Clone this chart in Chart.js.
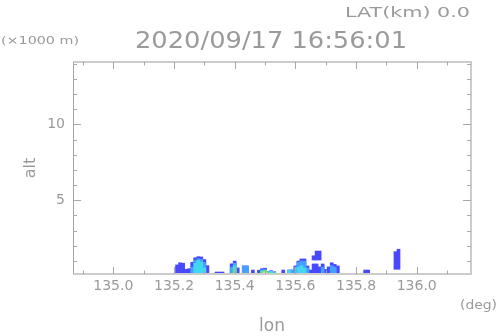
<!DOCTYPE html>
<html><head><meta charset="utf-8">
<script src="https://cdn.jsdelivr.net/npm/chart.js@4/dist/chart.umd.min.js"></script>
<style>html,body{margin:0;padding:0;background:#fff;}canvas{display:block;}</style>
</head><body>
<canvas id="c" width="498" height="336"></canvas>
<script>
// ---- tick labels ----
const xTicks = [135.0, 135.2, 135.4, 135.6, 135.8, 136.0];
const xMinorTicks = [134.9, 135.1, 135.3, 135.5, 135.7, 135.9, 136.1];
const yTicks = [5, 10];
const yMinorTicks = [1, 2, 3, 4, 6, 7, 8, 9, 11, 12, 13, 14];

// ---- ground echoes (blue envelope), lon (deg) -> top (km) ----
const echoLon = [135.21,135.22,135.23,135.24,135.25,135.26,135.27,135.28,135.29,135.30,135.31,
  135.34,135.35,135.36,135.39,135.40,135.41,135.43,135.44,135.46,135.48,135.49,135.50,135.51,135.52,135.53,
  135.56,135.58,135.59,135.60,135.61,135.62,135.63,135.64,135.65,135.66,135.67,135.68,135.69,135.70,
  135.71,135.72,135.73,135.74,135.83,135.84];
const echoTop = [0.75,0.89,0.86,0.46,0.50,0.92,1.22,1.29,1.27,1.10,0.70,
  0.28,0.28,0.28,0.82,1.00,0.55,0.68,0.68,0.41,0.40,0.50,0.53,0.30,0.37,0.30,
  0.41,0.41,0.41,0.68,1.00,1.14,1.14,0.68,0.41,0.81,0.81,0.62,0.81,0.45,
  0.62,0.89,0.78,0.68,0.41,0.41];

// ---- stronger cores ----
const lightLon = [135.26,135.27,135.28,135.29,135.30,135.39,135.40,135.43,135.44,135.49,135.50,
  135.58,135.59,135.60,135.61,135.62,135.63,135.64,135.69,135.72,135.73];
const lightTop = [0.60,1.05,1.15,1.12,0.90,0.60,0.85,0.68,0.68,0.42,0.45,
  0.41,0.41,0.60,0.92,1.00,1.00,0.55,0.60,0.70,0.60];
const cyanLon = [135.27,135.28,135.29,135.30,135.40,135.50,135.51,135.52,135.53,135.58,135.61,135.62,135.63];
const cyanTop = [0.85,1.05,0.95,0.55,0.70,0.38,0.28,0.33,0.25,0.38,0.60,0.70,0.55];
const greenLon = [135.40,135.49,135.50,135.52];
const greenTop = [0.55,0.35,0.38,0.25];
const yellowLon = [135.50];
const yellowTop = [0.28];

// ---- echoes aloft ----
const aloftLon = [135.66,135.67,135.68,135.93,135.94];
const aloftBase = [1.07,1.07,1.07,0.46,0.46];
const aloftTop = [1.35,1.66,1.66,1.62,1.78];

const GRAY = '#9a9a9a';
Chart.defaults.font.family = '"DejaVu Sans", sans-serif';
Chart.defaults.color = GRAY;

function toBars(lons, tops, bases) {
  return lons.map((x, i) => ({ x: x, y: [bases ? bases[i] : 0, tops[i]] }));
}
function ds(data, color, order) {
  return { data: data, backgroundColor: color, borderWidth: 0, grouped: false,
           barPercentage: 1, categoryPercentage: 1, order: order };
}

const frameTicks = {
  id: 'frameTicks',
  afterDatasetsDraw(chart) {
    const { ctx, chartArea: a, scales: { x, y } } = chart;
    ctx.save();
    ctx.strokeStyle = '#cccccc';
    ctx.lineWidth = 2;
    ctx.beginPath();
    ctx.moveTo(a.left, a.top); ctx.lineTo(a.right, a.top);
    ctx.lineTo(a.right, a.bottom); ctx.lineTo(a.left, a.bottom);
    ctx.stroke();
    ctx.strokeStyle = '#a4a4a4';
    ctx.lineWidth = 1;
    ctx.beginPath(); ctx.moveTo(a.left + 0.5, a.top); ctx.lineTo(a.left + 0.5, a.bottom); ctx.stroke();
    ctx.strokeStyle = '#a8a8a8';
    ctx.beginPath();
    const xt = (vals, len) => vals.forEach(v => {
      const px = Math.round(x.getPixelForValue(v)) + 0.5;
      ctx.moveTo(px, a.bottom); ctx.lineTo(px, a.bottom - len);
      ctx.moveTo(px, a.top); ctx.lineTo(px, a.top + len);
    });
    const yt = (vals, len) => vals.forEach(v => {
      const py = Math.round(y.getPixelForValue(v)) + 0.5;
      ctx.moveTo(a.left, py); ctx.lineTo(a.left + len, py);
      ctx.moveTo(a.right, py); ctx.lineTo(a.right - len, py);
    });
    xt(xTicks, 7); xt(xMinorTicks, 3.5);
    yt(yTicks, 8); yt(yMinorTicks, 4);
    ctx.stroke();
    ctx.restore();
  }
};

const annotations = [
  { text: 'LAT(km) 0.0', left: 345, right: 470, base: 16.7, size: 14 },
  { text: '(×1000 m)', left: 1, right: 79, base: 44, size: 11 },
  { text: '2020/09/17 16:56:01', left: 135, right: 407, base: 48, size: 23 },
  { text: '(deg)', left: 460, right: 497, base: 309, size: 12 }
];
const textPlugin = {
  id: 'texts',
  afterDraw(chart) {
    const ctx = chart.ctx;
    ctx.save();
    ctx.fillStyle = GRAY;
    ctx.textBaseline = 'alphabetic';
    ctx.textAlign = 'left';
    annotations.forEach(t => {
      ctx.font = t.size + 'px "DejaVu Sans"';
      const w = ctx.measureText(t.text).width;
      ctx.save();
      ctx.translate(t.left, t.base);
      ctx.scale((t.right - t.left) / w, 1);
      ctx.fillText(t.text, 0, 0);
      ctx.restore();
    });
    ctx.restore();
  }
};

new Chart(document.getElementById('c'), {
  type: 'bar',
  data: {
    datasets: [
      ds(toBars(yellowLon, yellowTop), '#e6e640', 1),
      ds(toBars(greenLon, greenTop), '#50e890', 2),
      ds(toBars(cyanLon, cyanTop), '#40d8f0', 3),
      ds(toBars(lightLon, lightTop), '#46a0ff', 4),
      ds(toBars(echoLon, echoTop), '#4848ff', 5),
      ds(toBars(aloftLon, aloftTop, aloftBase), '#4848ff', 5)
    ]
  },
  options: {
    responsive: false,
    animation: false,
    layout: { padding: { left: 0, top: 62, right: 27, bottom: 0 } },
    plugins: { legend: { display: false }, tooltip: { enabled: false }, title: { display: false } },
    scales: {
      x: {
        type: 'linear', min: 134.867, max: 136.179, offset: false,
        grid: { display: false, drawTicks: false }, border: { display: false },
        afterBuildTicks: s => { s.ticks = xTicks.map(v => ({ value: v })); },
        afterFit: s => { s.height = 62; },
        ticks: { autoSkip: false, maxRotation: 0, padding: 4, font: { size: 14 }, color: GRAY,
                 callback: v => Number(v).toFixed(1) },
        title: { display: true, text: 'lon', color: GRAY, font: { size: 17, lineHeight: 1 },
                 padding: { top: 0, bottom: 0.5 } }
      },
      y: {
        type: 'linear', min: 0.15, max: 14.1,
        grid: { display: false, drawTicks: false }, border: { display: false },
        afterBuildTicks: s => { s.ticks = yTicks.map(v => ({ value: v })); },
        afterFit: s => { s.width = 73; },
        ticks: { padding: 8, font: { size: 14 }, color: GRAY, callback: v => String(v) },
        title: { display: true, text: 'alt', color: GRAY, font: { size: 16 },
                 padding: { top: 21, bottom: 0 } }
      }
    }
  },
  plugins: [frameTicks, textPlugin]
});
</script>
</body></html>
